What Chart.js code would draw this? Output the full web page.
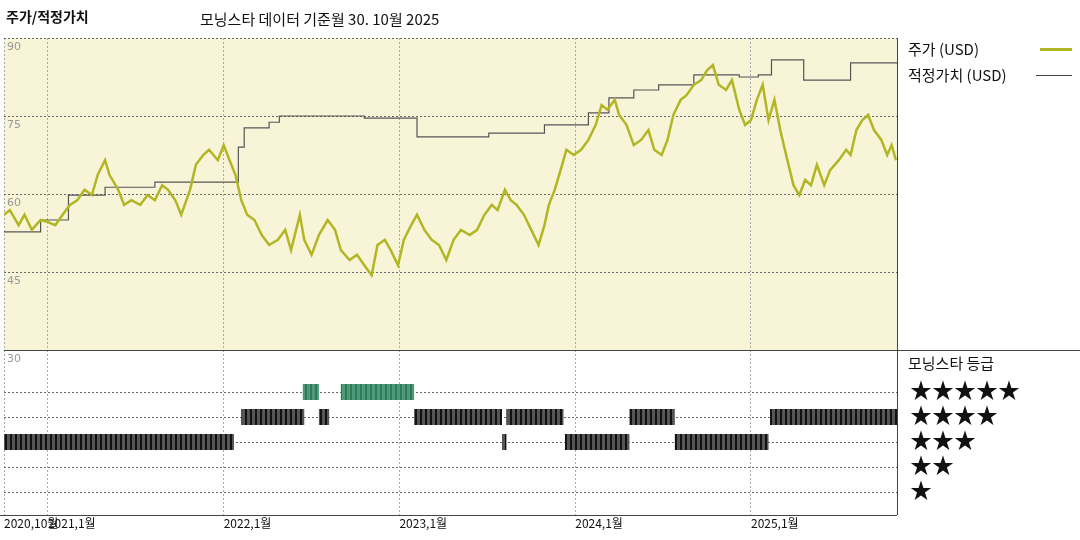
<!DOCTYPE html>
<html><head><meta charset="utf-8">
<script src="https://cdn.jsdelivr.net/npm/chart.js"></script>
<style>
body{margin:0;width:1080px;height:540px;background:#fff;font-family:"Noto Sans CJK KR",sans-serif;position:relative;overflow:hidden}
#c{position:absolute;left:0;top:0}
.t{position:absolute;white-space:nowrap;color:#111}
</style></head><body>
<canvas id="c" width="1080" height="540"></canvas>
<div class="t" style="left:6px;top:6px;font-size:14px;font-weight:bold">주가/적정가치</div>
<div class="t" style="left:200px;top:8px;font-size:15px">모닝스타 데이터 기준월 30. 10월 2025</div>
<div class="t" style="left:908px;top:38px;font-size:15px">주가 (USD)</div>
<div style="position:absolute;left:1040px;top:48px;width:32px;height:3px;background:#b2b624"></div>
<div class="t" style="left:908px;top:64px;font-size:15px">적정가치 (USD)</div>
<div style="position:absolute;left:1036px;top:75px;width:36px;height:1px;background:#444"></div>
<div class="t" style="left:908px;top:352px;font-size:15px">모닝스타 등급</div>
<div class="t" style="left:910px;top:376px;font-size:22px;line-height:25px">★★★★★<br>★★★★<br>★★★<br>★★<br>★</div>
<script>
// months since Oct 1 2020
const priceMonths=[0.0,0.4,1.0,1.4,1.9,2.5,3.0,3.5,4.0,4.5,5.0,5.5,6.0,6.4,6.9,7.2,7.8,8.2,8.7,9.3,9.8,10.3,10.8,11.2,11.7,12.1,12.7,13.1,13.6,14.0,14.6,15.0,15.4,15.8,16.2,16.6,17.1,17.6,18.1,18.7,19.2,19.6,20.2,20.5,21.0,21.5,22.1,22.6,23.0,23.6,24.1,24.6,25.1,25.5,26.0,26.4,26.9,27.3,27.8,28.2,28.7,29.2,29.7,30.2,30.7,31.2,31.8,32.3,32.8,33.3,33.7,34.2,34.6,35.0,35.5,36.0,36.5,36.9,37.2,37.6,38.0,38.4,38.9,39.4,39.9,40.4,40.8,41.2,41.7,42.0,42.5,43.0,43.5,44.0,44.4,44.9,45.3,45.7,46.2,46.6,47.1,47.6,48.0,48.4,48.8,49.3,49.7,50.2,50.6,51.0,51.4,51.8,52.2,52.6,53.0,53.4,53.9,54.3,54.7,55.1,55.5,56.0,56.4,57.0,57.5,57.8,58.2,58.6,59.0,59.4,59.9,60.3,60.6,60.9];
const prices=[56.0,56.9,54.0,56.0,53.1,55.0,54.6,54.0,56.0,57.9,58.8,60.8,59.8,63.7,66.5,63.7,60.8,57.9,58.8,57.9,59.8,58.8,61.7,60.8,58.8,56.0,60.8,65.6,67.5,68.5,66.5,69.4,66.5,63.7,58.8,56.0,55.0,52.1,50.2,51.2,53.1,49.2,56.0,51.2,48.3,52.1,55.0,53.1,49.2,47.3,48.3,46.3,44.4,50.2,51.2,49.2,46.3,51.2,54.0,56.0,53.1,51.2,50.2,47.3,51.2,53.1,52.1,53.1,56.0,57.9,56.9,60.8,58.8,57.9,56.0,53.1,50.2,54.0,57.9,60.8,64.6,68.5,67.5,68.5,70.4,73.3,77.1,76.2,78.1,75.2,73.3,69.4,70.4,72.3,68.5,67.5,70.4,75.2,78.1,79.0,81.0,81.9,83.8,84.8,81.0,80.0,81.9,76.2,73.3,74.2,78.1,81.0,74.2,78.1,72.3,67.5,61.7,59.8,62.7,61.7,65.6,61.7,64.6,66.5,68.5,67.5,72.3,74.2,75.2,72.3,70.4,67.5,69.4,66.5];
const fairMonths=[0,2.5,4.4,6.9,10.3,16.0,16.4,18.1,18.8,24.6,28.2,33.1,36.9,39.9,41.3,43.0,44.7,47.1,50.2,51.5,52.4,54.6,57.8,60.97];
const fairValues=[52.7,55.0,59.8,61.3,62.3,69.0,72.7,73.8,75.0,74.6,71.0,71.7,73.3,75.6,78.5,80.0,81.0,82.9,82.5,82.9,85.8,81.9,85.2,85.2];
// [start month, end month, stars]
const ratingSegments=[[0,15.7,3],[16.2,20.5,4],[20.4,21.5,5],[21.5,22.2,4],[23.0,28.0,5],[28.0,34.0,4],[34.0,34.3,3],[34.3,38.2,4],[38.3,42.7,3],[42.7,45.8,4],[45.8,52.2,3],[52.3,61,4]];
const xTickMonths=[0,3,15,27,39,51];
const xTickLabels=["2020,10월","2021,1월","2022,1월","2023,1월","2024,1월","2025,1월"];
const yTicks=[30,45,60,75,90];

const ctx=document.getElementById('c').getContext('2d');
function stripe(col){const p=document.createElement('canvas');p.width=5;p.height=4;const g=p.getContext('2d');g.fillStyle=col[0];g.fillRect(0,0,5,4);g.fillStyle=col[1];g.fillRect(0,0,2,4);return ctx.createPattern(p,'repeat');}
const datasets=[
 {data:priceMonths.map((m,i)=>({x:m,y:prices[i]})),borderColor:'#b2b624',borderWidth:2.5,pointRadius:0,yAxisID:'y',tension:0,order:1},
 {data:fairMonths.map((m,i)=>({x:m,y:fairValues[i]})),borderColor:'#555',borderWidth:1.2,pointRadius:0,stepped:true,yAxisID:'y',order:2}
];
ratingSegments.forEach(s=>{
 datasets.push({data:[{x:s[0],y:s[2]},{x:s[1],y:s[2]}],borderColor:s[2]==5?stripe(['#4e9a78','#2f7a58']):stripe(['#555','#111']),borderWidth:16,borderCapStyle:'butt',pointRadius:0,yAxisID:'y2'});
});
const deco={id:'deco',
 beforeDraw(c){const a=c.chartArea,ys=c.scales.y,g=c.ctx;g.save();g.fillStyle='#f8f4d8';g.fillRect(a.left,ys.top,a.right-a.left,ys.bottom-ys.top);g.restore();},
 afterDraw(c){const a=c.chartArea,ys=c.scales.y,y2=c.scales.y2,xs=c.scales.x,g=c.ctx;g.save();
  g.font='11px "DejaVu Sans"';g.fillStyle='#999';g.textBaseline='top';
  yTicks.forEach(v=>{g.fillText(String(v),a.left+3,(v==30?y2.top:ys.getPixelForValue(v))+4);});
  g.strokeStyle='#444';g.lineWidth=1;g.beginPath();g.moveTo(a.left,ys.bottom+0.5);g.lineTo(1080,ys.bottom+0.5);g.stroke();
  g.beginPath();g.moveTo(a.right+0.5,a.top);g.lineTo(a.right+0.5,a.bottom);g.stroke();
  g.beginPath();g.moveTo(0,a.bottom+0.5);g.lineTo(a.right,a.bottom+0.5);g.stroke();
  g.font='12px "Noto Sans CJK KR"';g.fillStyle='#111';
  xTickMonths.forEach((m,i)=>g.fillText(xTickLabels[i],xs.getPixelForValue(m),a.bottom+2));
  g.restore();}
};
new Chart(ctx,{type:'line',data:{datasets},plugins:[deco],
 options:{responsive:false,animation:false,layout:{padding:{left:4,right:183,top:38,bottom:25}},
  plugins:{legend:{display:false},tooltip:{enabled:false}},
  scales:{
   x:{type:'linear',min:0,max:60.97,afterBuildTicks:s=>{s.ticks=xTickMonths.map(v=>({value:v}));},
      ticks:{display:false},grid:{color:'#aaa',tickLength:0},border:{display:false,dash:[2,2]}},
   y2:{stack:'v',stackWeight:165,min:0.08,max:6.68,afterBuildTicks:s=>{s.ticks=[1,2,3,4,5].map(v=>({value:v}));},
      ticks:{display:false},grid:{color:'#666',tickLength:0},border:{display:false,dash:[2,2]}},
   y:{stack:'v',stackWeight:312,min:30,max:90,afterBuildTicks:s=>{s.ticks=yTicks.map(v=>({value:v}));},
      ticks:{display:false},grid:{color:'#666',tickLength:0},border:{display:false,dash:[2,2]}}
  }}});
</script></body></html>
